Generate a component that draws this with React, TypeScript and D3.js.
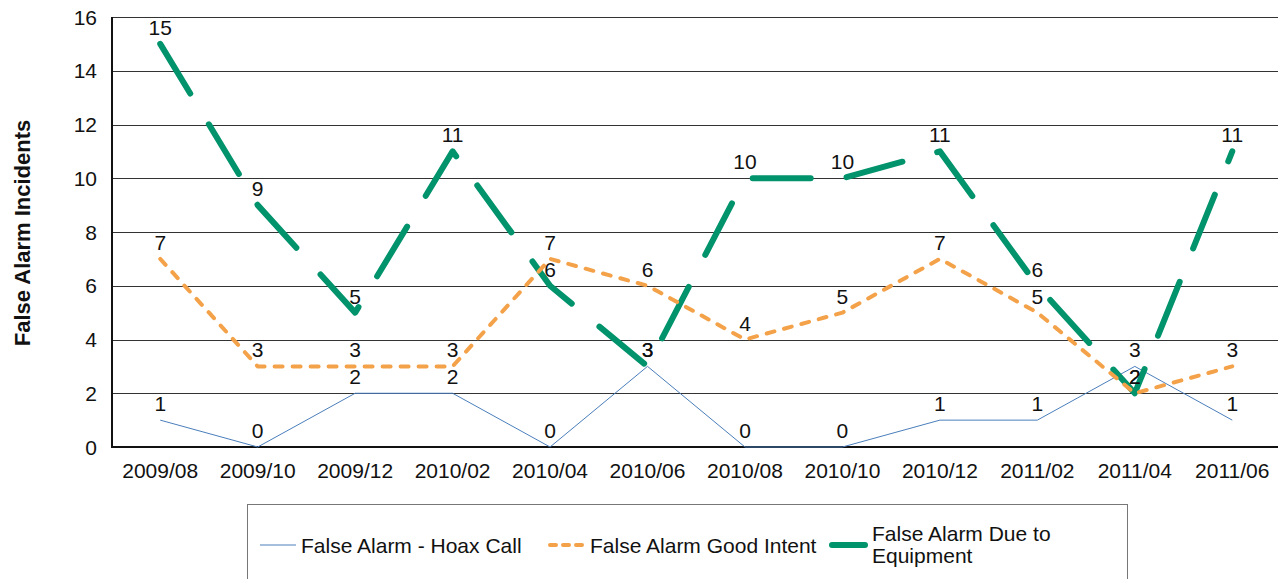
import { useEffect, useRef } from 'react';
import * as d3 from 'd3';

const months = ['2009/08', '2009/10', '2009/12', '2010/02', '2010/04', '2010/06', '2010/08', '2010/10', '2010/12', '2011/02', '2011/04', '2011/06'];
const hoaxCalls = [1, 0, 2, 2, 0, 3, 0, 0, 1, 1, 3, 1];
const goodIntent = [7, 3, 3, 3, 7, 6, 4, 5, 7, 5, 2, 3];
const dueToEquipment = [15, 9, 5, 11, 6, 3, 10, 10, 11, 6, 2, 11];
const yTicks = [0, 2, 4, 6, 8, 10, 12, 14, 16];

export default function App() {
  const ref = useRef<SVGSVGElement | null>(null);

  useEffect(() => {
    if (!ref.current) return;
    const svg = d3.select(ref.current);
    svg.selectAll('*').remove();

    const width = 1278;
    const height = 579;
    const font = "'Liberation Sans', Arial, sans-serif";
    const fs = 21;

    const x = d3.scalePoint<string>().domain(months).range([111.5, 1281]).padding(0.5);
    const y = d3.scaleLinear().domain([0, 16]).range([447, 17]);

    svg.attr('width', width).attr('height', height).style('display', 'block');

    // gridlines
    svg.append('g')
      .selectAll('line')
      .data(yTicks.filter(t => t > 0))
      .enter()
      .append('line')
      .attr('x1', 112)
      .attr('x2', width)
      .attr('y1', d => Math.round(y(d)) + 0.5)
      .attr('y2', d => Math.round(y(d)) + 0.5)
      .attr('stroke', '#333')
      .attr('stroke-width', 1);

    // axes
    svg.append('line')
      .attr('x1', 112).attr('x2', 112)
      .attr('y1', y(16)).attr('y2', y(0) + 1)
      .attr('stroke', '#111').attr('stroke-width', 2);
    svg.append('line')
      .attr('x1', 111).attr('x2', width)
      .attr('y1', y(0)).attr('y2', y(0))
      .attr('stroke', '#111').attr('stroke-width', 2);

    svg.append('g')
      .selectAll('text')
      .data(yTicks)
      .enter()
      .append('text')
      .attr('x', 97)
      .attr('y', d => y(d) + 7.5)
      .attr('text-anchor', 'end')
      .attr('font-family', font)
      .attr('font-size', fs)
      .attr('fill', '#111')
      .text(d => d);

    svg.append('g')
      .selectAll('text')
      .data(months)
      .enter()
      .append('text')
      .attr('x', d => x(d)!)
      .attr('y', 477.5)
      .attr('text-anchor', 'middle')
      .attr('font-family', font)
      .attr('font-size', fs)
      .attr('fill', '#111')
      .text(d => d);

    svg.append('text')
      .attr('transform', 'translate(30,233) rotate(-90)')
      .attr('text-anchor', 'middle')
      .attr('font-family', font)
      .attr('font-size', 22)
      .attr('font-weight', 'bold')
      .attr('fill', '#111')
      .text('False Alarm Incidents');

    const line = d3.line<number>()
      .x((_, i) => x(months[i])!)
      .y(d => y(d));

    svg.append('path')
      .attr('d', line(hoaxCalls)!)
      .attr('fill', 'none')
      .attr('stroke', '#4a7ebb')
      .attr('stroke-width', 1);

    svg.append('path')
      .attr('d', line(dueToEquipment)!)
      .attr('fill', 'none')
      .attr('stroke', '#00936c')
      .attr('stroke-width', 6)
      .attr('stroke-linecap', 'round')
      .attr('stroke-linejoin', 'round')
      .attr('stroke-dasharray', '58,36');

    svg.append('path')
      .attr('d', line(goodIntent)!)
      .attr('fill', 'none')
      .attr('stroke', '#f4a24a')
      .attr('stroke-width', 4)
      .attr('stroke-linecap', 'round')
      .attr('stroke-linejoin', 'round')
      .attr('stroke-dasharray', '8,10');

    // data labels
    [hoaxCalls, goodIntent, dueToEquipment].forEach(series => {
      svg.append('g')
        .selectAll('text')
        .data(series)
        .enter()
        .append('text')
        .attr('x', (_, i) => x(months[i])!)
        .attr('y', d => y(d) - 9)
        .attr('text-anchor', 'middle')
        .attr('font-family', font)
        .attr('font-size', fs)
        .attr('fill', '#111')
        .text(d => d);
    });

    // legend
    const legend = svg.append('g');
    legend.append('rect')
      .attr('x', 247.5).attr('y', 504.5)
      .attr('width', 880).attr('height', 100)
      .attr('fill', 'white')
      .attr('stroke', '#777')
      .attr('stroke-width', 1);

    legend.append('line')
      .attr('x1', 260).attr('x2', 296).attr('y1', 545).attr('y2', 545)
      .attr('stroke', '#4a7ebb').attr('stroke-width', 1);
    legend.append('text')
      .attr('x', 301).attr('y', 552.5)
      .attr('font-family', font).attr('font-size', fs).attr('fill', '#111')
      .text('False Alarm - Hoax Call');

    legend.append('line')
      .attr('x1', 550).attr('x2', 584).attr('y1', 545).attr('y2', 545)
      .attr('stroke', '#f4a24a').attr('stroke-width', 4)
      .attr('stroke-linecap', 'round').attr('stroke-dasharray', '6,7');
    legend.append('text')
      .attr('x', 590).attr('y', 552.5)
      .attr('font-family', font).attr('font-size', fs).attr('fill', '#111')
      .text('False Alarm Good Intent');

    legend.append('line')
      .attr('x1', 832).attr('x2', 865).attr('y1', 545).attr('y2', 545)
      .attr('stroke', '#00936c').attr('stroke-width', 6)
      .attr('stroke-linecap', 'round');
    const t = legend.append('text')
      .attr('font-family', font).attr('font-size', fs).attr('fill', '#111');
    t.append('tspan').attr('x', 872).attr('y', 540.5).text('False Alarm Due to');
    t.append('tspan').attr('x', 872).attr('y', 563).text('Equipment');
  }, []);

  return (
    <div style={{ position: 'absolute', left: 0, top: 0 }}>
      <svg ref={ref}></svg>
    </div>
  );
}
